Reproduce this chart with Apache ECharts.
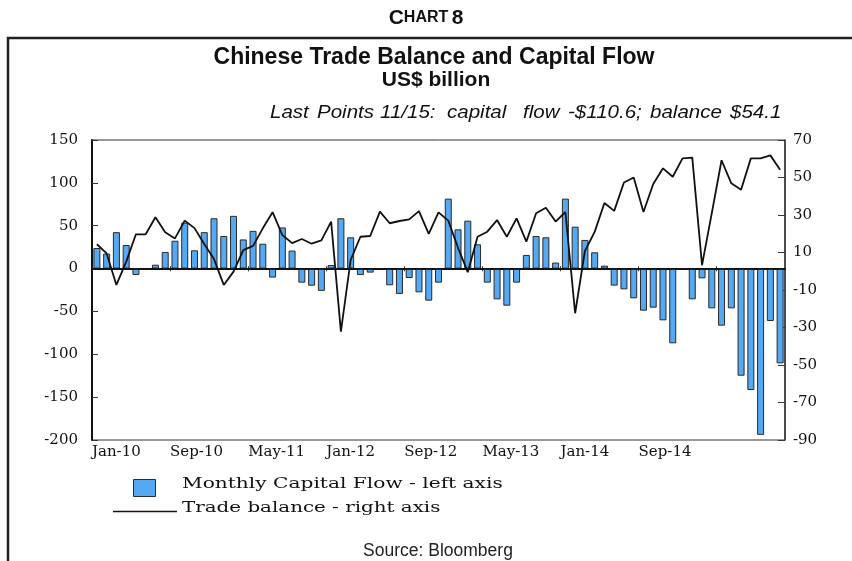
<!DOCTYPE html>
<html>
<head>
<meta charset="utf-8">
<script src="https://cdn.jsdelivr.net/npm/echarts@6/dist/echarts.min.js"></script>
<style>
html, body { margin: 0; padding: 0; background: #fff; }
#chart { width: 852px; height: 561px; }
</style>
</head>
<body>
<div id="chart"></div>
<script>
// months Jan-10 .. Nov-15
const monthNames = ['Jan', 'Feb', 'Mar', 'Apr', 'May', 'Jun', 'Jul', 'Aug', 'Sep', 'Oct', 'Nov', 'Dec']
const months = []
for (let y = 10; y <= 15; y++) {
  for (const m of monthNames) {
    if (y === 15 && m === 'Dec') break
    months.push(m + '-' + y)
  }
}

// US$ billion, left axis
const capitalFlow = [
  24, 17.5, 42.5, 27.5, -7.5, -1, 4.5, 19.4, 32.5, 53.5, 21.3, 42.5,
  58.7, 38, 61.5, 34, 44, 29, -10.5, 48, 21, -16.4, -20, -26,
  4.2, 58.7, 36.5, -7.5, -4.7, -0.5, -19.5, -29.6, -11, -27.7, -37.4, -16.4,
  81.6, 45.8, 55.9, 28.3, -16.4, -35.9, -43.3, -16.4, 15.9, 38, 36.5, 7,
  81.6, 48.9, 33.4, 19, 3.4, -19.9, -24.2, -34.7, -49.1, -45.6, -60.4, -87.2,
  0, -35.9, -11.4, -46.4, -66.6, -46.4, -125, -141.7, -194, -61.2, -110.6
]

// US$ billion, right axis
const tradeBalance = [
  14.4, 9.5, -7.3, 5, 19.7, 19.7, 28.8, 20.8, 17.5, 27, 23, 14.5,
  6.5, -7.3, -0.2, 11.3, 13.5, 22.9, 31.5, 19.3, 15, 17.2, 14.7, 16.5,
  26.5, -32.2, 6, 18.4, 18.8, 31.8, 25.6, 26.8, 27.7, 32.1, 19.9, 31.4,
  27, 12.5, -0.5, 18.4, 21.1, 27.3, 18.4, 28.2, 15.8, 30.9, 33.9, 26.5,
  31.6, -22.4, 10.8, 21, 36.4, 32.2, 47.3, 50, 31.6, 46.5, 54.9, 50.4,
  60.2, 60.6, 3.3, 31, 59.2, 46.9, 43.5, 60.2, 60.2, 61.8, 54.1
]

const xTickIdx = [0, 8, 16, 24, 32, 40, 48, 56, 64]
const xTickLabels = ['Jan-10', 'Sep-10', 'May-11', 'Jan-12', 'Sep-12', 'May-13', 'Jan-14', 'Sep-14']
const rightTicks = [-90, -70, -50, -30, -10, 10, 30, 50, 70]

const subtitleWords = ['Last', 'Points', '11/15:', 'capital', 'flow', '-$110.6;', 'balance', '$54.1']
const subtitleX = [270, 317, 380, 447, 523, 568, 650, 730]

const barName = 'Monthly Capital Flow - left axis'
const lineName = 'Trade balance - right axis'
const barColor = '#55a8f2'

const serif = 'DejaVu Serif'
const sans = 'Liberation Sans'

const chart = echarts.init(document.getElementById('chart'))

const graphic = [
  {
    type: 'polyline',
    shape: { points: [[8, 561], [8, 38], [852, 38]] },
    style: { stroke: '#222', lineWidth: 2.5, fill: null }
  },
  {
    type: 'text',
    x: 426,
    y: 18,
    style: {
      text: '{a|C}{b|HART} {a|8}',
      align: 'center',
      verticalAlign: 'middle',
      rich: {
        a: { fontFamily: sans, fontWeight: 'bold', fontSize: 21, fill: '#111' },
        b: { fontFamily: sans, fontWeight: 'bold', fontSize: 16, fill: '#111' }
      }
    }
  },
  {
    type: 'text',
    x: 434,
    y: 58,
    style: {
      text: 'Chinese Trade Balance and Capital Flow',
      fontFamily: sans, fontWeight: 'bold', fontSize: 23, fill: '#111',
      align: 'center', verticalAlign: 'middle'
    }
  },
  {
    type: 'text',
    x: 436,
    y: 80,
    style: {
      text: 'US$ billion',
      fontFamily: sans, fontWeight: 'bold', fontSize: 21, fill: '#111',
      align: 'center', verticalAlign: 'middle'
    }
  },
  {
    type: 'text',
    x: 438,
    y: 551,
    style: {
      text: 'Source: Bloomberg',
      fontFamily: sans, fontSize: 17.5, fill: '#222',
      align: 'center', verticalAlign: 'middle'
    }
  },
  // legend
  {
    type: 'rect',
    shape: { x: 133.5, y: 479.5, width: 22, height: 17 },
    style: { fill: barColor, stroke: '#2a2a2a', lineWidth: 1 }
  },
  {
    type: 'text',
    x: 182,
    y: 484,
    scaleX: 1.39,
    style: {
      text: barName,
      fontFamily: serif, fontSize: 14.5, fill: '#111',
      align: 'left', verticalAlign: 'middle'
    }
  },
  {
    type: 'line',
    shape: { x1: 113, y1: 511.5, x2: 177, y2: 511.5 },
    style: { stroke: '#111', lineWidth: 1.3 }
  },
  {
    type: 'text',
    x: 182,
    y: 508,
    scaleX: 1.37,
    style: {
      text: lineName,
      fontFamily: serif, fontSize: 14.5, fill: '#111',
      align: 'left', verticalAlign: 'middle'
    }
  }
]

subtitleWords.forEach((w, i) => {
  graphic.push({
    type: 'text',
    x: subtitleX[i],
    y: 113,
    scaleX: 1.14,
    style: {
      text: w,
      fontFamily: sans, fontStyle: 'italic', fontSize: 18, fill: '#111',
      align: 'left', verticalAlign: 'middle'
    }
  })
})

chart.setOption({
  animation: false,
  backgroundColor: '#fff',
  graphic: graphic,
  grid: {
    left: 92,
    right: 67,
    top: 140,
    bottom: 121,
    show: true,
    borderColor: '#333',
    borderWidth: 1
  },
  xAxis: [
    {
      type: 'category',
      data: months,
      boundaryGap: true,
      axisLine: { lineStyle: { color: '#111', width: 2 } },
      axisTick: { show: false },
      axisLabel: { show: false }
    },
    {
      type: 'value',
      position: 'bottom',
      min: 0,
      max: months.length,
      axisLine: { show: false },
      splitLine: { show: false },
      axisTick: {
        show: true,
        inside: true,
        length: 5,
        customValues: xTickIdx,
        lineStyle: { color: '#333' }
      },
      axisLabel: {
        customValues: xTickIdx.slice(0, xTickLabels.length),
        formatter: v => xTickLabels[xTickIdx.indexOf(v)] || '',
        align: 'left',
        margin: 5,
        fontFamily: serif,
        fontSize: 15,
        color: '#111'
      }
    }
  ],
  yAxis: [
    {
      type: 'value',
      position: 'left',
      min: -200,
      max: 150,
      interval: 50,
      splitLine: { show: false },
      axisLine: { show: true, lineStyle: { color: '#111', width: 2 } },
      axisTick: { show: true, inside: true, length: 6, lineStyle: { color: '#333' } },
      axisLabel: { margin: 14, fontFamily: serif, fontSize: 15, color: '#111' }
    },
    {
      type: 'value',
      position: 'right',
      min: -90,
      max: 70,
      splitLine: { show: false },
      axisLine: { show: true, lineStyle: { color: '#333', width: 1.5 } },
      axisTick: { show: true, inside: true, length: 7, customValues: rightTicks, lineStyle: { color: '#333' } },
      axisLabel: { margin: 8, customValues: rightTicks, fontFamily: serif, fontSize: 15, color: '#111' }
    }
  ],
  series: [
    {
      name: barName,
      type: 'bar',
      xAxisIndex: 0,
      yAxisIndex: 0,
      data: capitalFlow,
      barWidth: 7,
      itemStyle: { color: barColor, borderColor: '#2a2a2a', borderWidth: 1 },
      markLine: {
        silent: true,
        symbol: ['none', 'none'],
        label: { show: false },
        lineStyle: { color: '#111', width: 1.5, type: 'solid' },
        data: [{ yAxis: 0 }]
      }
    },
    {
      name: lineName,
      type: 'line',
      xAxisIndex: 0,
      yAxisIndex: 1,
      data: tradeBalance,
      symbol: 'none',
      lineStyle: { color: '#111', width: 1.8 },
      itemStyle: { color: '#111' }
    }
  ]
})
</script>
</body>
</html>
